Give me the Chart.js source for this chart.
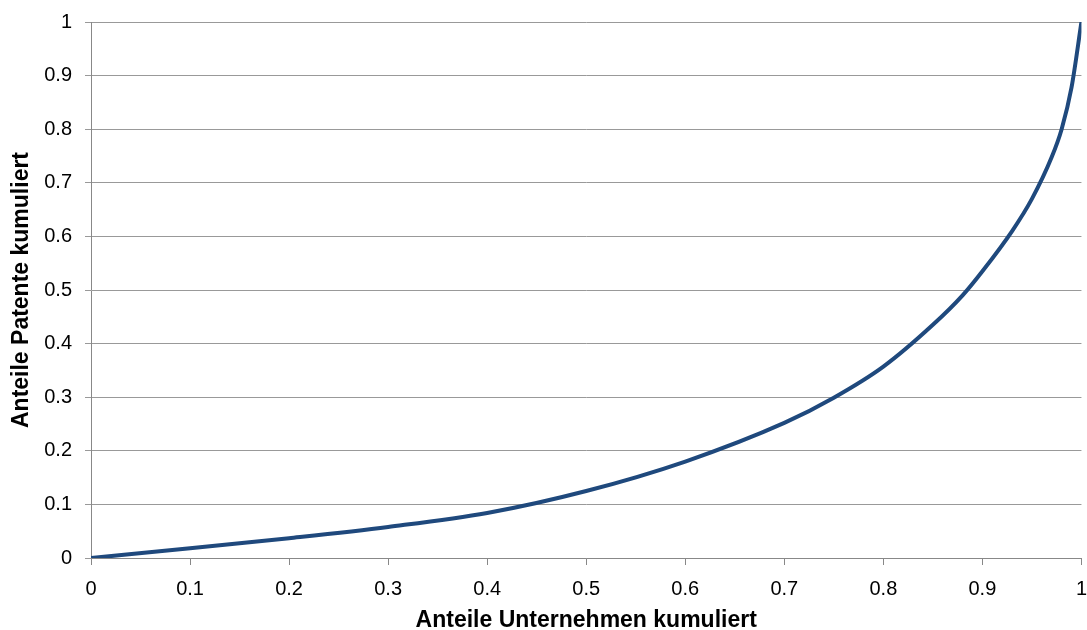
<!DOCTYPE html>
<html>
<head>
<meta charset="utf-8">
<script src="https://cdn.jsdelivr.net/npm/chart.js@4"></script>
<style>
  html, body { margin: 0; padding: 0; background: #fff; }
  #wrap { width: 1087px; height: 630px; }
</style>
</head>
<body>
<div id="wrap"><canvas id="lorenzChart" width="1087" height="630"></canvas></div>
<script>
// cumulative share of firms (x) vs cumulative share of patents (y)
const firmShare = [0, 0.1, 0.2, 0.3, 0.4, 0.5, 0.6, 0.7, 0.75, 0.8, 0.85, 0.88, 0.9, 0.93, 0.95, 0.97, 0.98, 0.99, 1];
const patentShare = [0, 0.018, 0.037, 0.058, 0.084, 0.125, 0.18, 0.252, 0.299, 0.357, 0.435, 0.49, 0.535, 0.61, 0.67, 0.748, 0.8, 0.878, 1];
const axisTicks = [0, 0.1, 0.2, 0.3, 0.4, 0.5, 0.6, 0.7, 0.8, 0.9, 1];

const points = firmShare.map((x, i) => ({ x: x, y: patentShare[i] }));

const titleFont = { family: 'Liberation Sans, Arial', size: 23, weight: 'bold', lineHeight: 1 };

const ctx = document.getElementById('lorenzChart').getContext('2d');

const lorenzChart = new Chart(ctx, {
  type: 'scatter',
  data: {
    datasets: [{
      label: 'Lorenzkurve',
      data: points,
      showLine: true,
      borderColor: '#1f497d',
      borderWidth: 4,
      pointRadius: 0,
      cubicInterpolationMode: 'monotone',
      fill: false
    }]
  },
  options: {
    responsive: false,
    animation: false,
    layout: { padding: { top: 22, right: 0, left: 10, bottom: 0 } },
    plugins: {
      legend: { display: false },
      tooltip: { enabled: false }
    },
    scales: {
      x: {
        type: 'linear',
        min: 0,
        max: 1,
        afterBuildTicks: axis => { axis.ticks = axisTicks.map(v => ({ value: v })); },
        afterFit: axis => { axis.height = 72; },
        ticks: {
          color: '#000',
          // tall line height pushes the labels down without widening the right padding
          font: { family: 'Liberation Sans, Arial', size: 20, lineHeight: 2.4 },
          padding: 0,
          maxRotation: 0,
          callback: v => String(v)
        },
        grid: { drawOnChartArea: false, color: '#888', tickLength: 7 },
        border: { color: '#888', width: 1 },
        title: {
          display: true,
          text: 'Anteile Unternehmen kumuliert',
          color: '#000',
          font: titleFont,
          padding: { top: 0, bottom: -2 }
        }
      },
      y: {
        type: 'linear',
        min: 0,
        max: 1,
        afterBuildTicks: axis => { axis.ticks = axisTicks.map(v => ({ value: v })); },
        afterFit: axis => { axis.width = 81; },
        ticks: {
          color: '#000',
          // small line height keeps the top padding at 22px
          font: { family: 'Liberation Sans, Arial', size: 20, lineHeight: 0.8 },
          padding: 13,
          callback: v => String(v)
        },
        grid: { color: '#999', lineWidth: 1, tickLength: 6 },
        border: { color: '#888', width: 1 },
        title: {
          display: true,
          text: 'Anteile Patente kumuliert',
          color: '#000',
          font: titleFont,
          padding: { top: 0, bottom: 0 }
        }
      }
    }
  }
});
</script>
</body>
</html>
